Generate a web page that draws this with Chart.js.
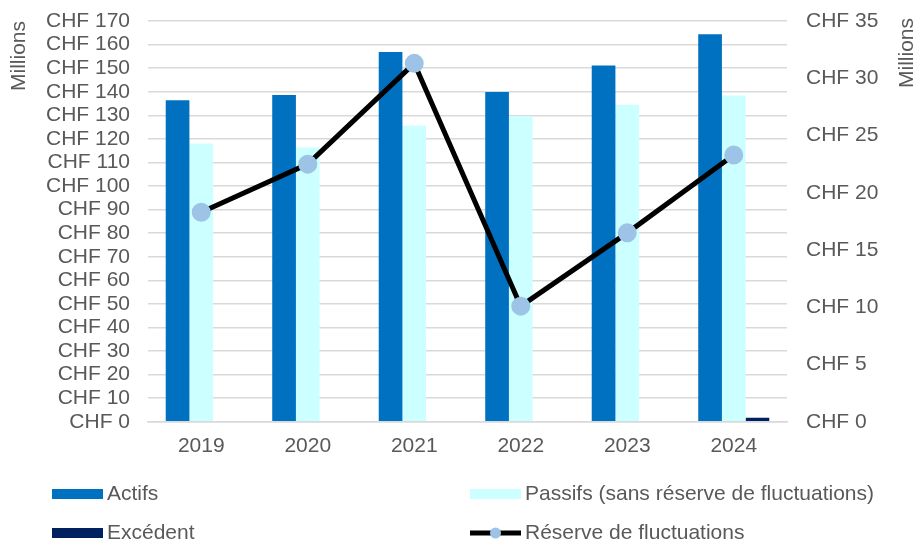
<!DOCTYPE html>
<html>
<head>
<meta charset="utf-8">
<script src="https://cdn.jsdelivr.net/npm/chart.js@4/dist/chart.umd.min.js"></script>
<style>
  html, body { margin: 0; padding: 0; background: #fff; }
  #wrap { width: 919px; height: 543px; }
</style>
</head>
<body>
<div id="wrap"><canvas id="chart" width="919" height="543"></canvas></div>
<script>
const years = ["2019", "2020", "2021", "2022", "2023", "2024"];
const actifs = [136.4, 138.6, 156.9, 139.9, 151.1, 164.4];
const passifs = [118.0, 116.3, 125.6, 129.7, 134.5, 138.4];
const excedent = [0, 0, 0, 0, 0, 1.7];
const reserve = [18.3, 22.5, 31.3, 10.1, 16.5, 23.3];
const leftTicks = { min: 0, max: 170, step: 10 };
const rightTicks = { min: 0, max: 35, step: 5 };

const textColor = "#595959";
const fontFamily = "'Liberation Sans', Arial, sans-serif";
const fontSize = 21;
const markerColor = "#9DC3E6";

// legend laid out in two columns under the chart, like the original
const legendPlugin = {
  id: "gridLegend",
  afterDraw(chart) {
    const ctx = chart.ctx;
    const items = chart.data.datasets.slice().sort((a, b) => a.legendIndex - b.legendIndex);
    const cols = [52, 470];
    const rows = [494, 533];
    ctx.save();
    ctx.font = fontSize + "px " + fontFamily;
    ctx.textBaseline = "middle";
    ctx.textAlign = "left";
    items.forEach((ds, i) => {
      const x = cols[i % 2];
      const y = rows[Math.floor(i / 2)];
      if (ds.type === "line") {
        ctx.strokeStyle = ds.borderColor;
        ctx.lineWidth = 5;
        ctx.beginPath();
        ctx.moveTo(x, y);
        ctx.lineTo(x + 51, y);
        ctx.stroke();
        ctx.fillStyle = markerColor;
        ctx.beginPath();
        ctx.arc(x + 25.5, y, 5.5, 0, Math.PI * 2);
        ctx.fill();
      } else {
        ctx.fillStyle = ds.backgroundColor;
        ctx.fillRect(x, y - 5, 51, 10);
      }
      ctx.fillStyle = textColor;
      ctx.fillText(ds.label, x + 55, y);
    });

    // "Millions" axis titles, both reading bottom to top
    const drawTitle = (cx, cy) => {
      ctx.save();
      ctx.translate(cx, cy);
      ctx.rotate(-Math.PI / 2);
      ctx.textAlign = "center";
      ctx.fillText("Millions", 0, 0);
      ctx.restore();
    };
    drawTitle(19, 56);
    drawTitle(907, 53);
    ctx.restore();
  },
};

new Chart(document.getElementById("chart"), {
  data: {
    labels: years,
    datasets: [
      {
        type: "line",
        label: "Réserve de fluctuations",
        data: reserve,
        yAxisID: "y1",
        borderColor: "#000000",
        borderWidth: 5,
        pointBackgroundColor: markerColor,
        pointBorderColor: markerColor,
        pointRadius: 7,
        tension: 0,
        order: 0,
        legendIndex: 3,
      },
      {
        type: "bar",
        label: "Actifs",
        data: actifs,
        backgroundColor: "#0070C0",
        yAxisID: "y",
        order: 1,
        legendIndex: 0,
      },
      {
        type: "bar",
        label: "Passifs (sans réserve de fluctuations)",
        data: passifs,
        backgroundColor: "#CCFFFF",
        yAxisID: "y",
        order: 1,
        legendIndex: 1,
      },
      {
        type: "bar",
        label: "Excédent",
        data: excedent,
        backgroundColor: "#002060",
        yAxisID: "y",
        order: 1,
        legendIndex: 2,
      },
    ],
  },
  options: {
    responsive: false,
    animation: false,
    layout: { padding: { top: 21, bottom: 72, left: 0, right: 0 } },
    datasets: {
      bar: { categoryPercentage: 0.667, barPercentage: 1.0 },
    },
    plugins: {
      legend: { display: false },
      tooltip: { enabled: false },
    },
    scales: {
      x: {
        grid: { display: false, drawTicks: false },
        border: { color: "#D9D9D9", width: 1.5 },
        ticks: {
          color: textColor,
          font: { size: fontSize, family: fontFamily },
          padding: 12,
        },
      },
      y: {
        position: "left",
        min: leftTicks.min,
        max: leftTicks.max,
        afterFit(scale) {
          scale.width = 148;
          scale.paddingTop = 0;
          scale.paddingBottom = 0;
        },
        grid: { color: "#D9D9D9", lineWidth: 1.5, drawTicks: false },
        border: { display: false },
        ticks: {
          stepSize: leftTicks.step,
          autoSkip: false,
          color: textColor,
          font: { size: fontSize, family: fontFamily },
          padding: 18,
          callback: (v) => "CHF " + v,
        },
      },
      y1: {
        position: "right",
        min: rightTicks.min,
        max: rightTicks.max,
        afterFit(scale) {
          scale.width = 132;
          scale.paddingTop = 0;
          scale.paddingBottom = 0;
        },
        grid: { display: false, drawTicks: false },
        border: { display: false },
        ticks: {
          stepSize: rightTicks.step,
          autoSkip: false,
          color: textColor,
          font: { size: fontSize, family: fontFamily },
          padding: 19,
          callback: (v) => "CHF " + v,
        },
      },
    },
  },
  plugins: [legendPlugin],
});
</script>
</body>
</html>
